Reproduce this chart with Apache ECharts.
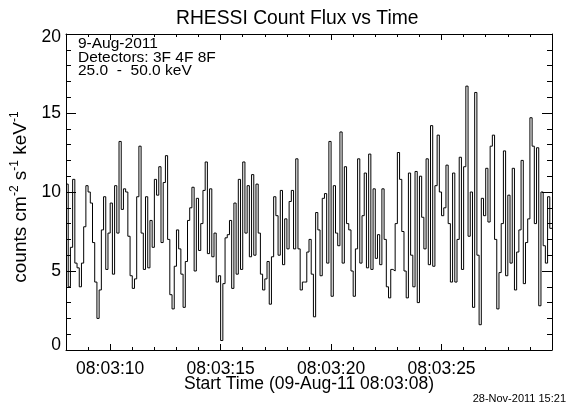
<!DOCTYPE html>
<html>
<head>
<meta charset="utf-8">
<script src="https://cdn.jsdelivr.net/npm/echarts@6/dist/echarts.min.js"></script>
<style>
html, body { margin: 0; padding: 0; background: #fff; }
#chart { width: 576px; height: 410px; }
</style>
</head>
<body>
<div id="chart"></div>
<script>
'use strict';
// count flux per 0.1 s bin
const flux = [
    10.5, 4.0, 6.5, 10.8, 5.5, 5.2, 4.0, 5.5, 7.8, 10.4,
    10.0, 9.3, 6.8, 4.3, 2.0, 3.8, 7.6, 9.7, 5.1, 7.4,
    9.3, 4.8, 10.4, 7.4, 13.2, 8.9, 10.2, 10.0, 7.2, 4.7,
    3.9, 4.5, 9.7, 12.9, 7.4, 5.1, 9.7, 5.2, 8.2, 6.5,
    10.8, 9.8, 11.6, 6.8, 10.6, 12.3, 7.0, 3.5, 2.6, 5.3,
    7.6, 6.4, 4.8, 2.7, 5.6, 8.2, 9.0, 10.3, 5.0, 9.6,
    6.3, 8.0, 10.1, 11.9, 6.1, 10.2, 5.9, 7.4, 4.3, 4.7,
    0.6, 4.2, 7.1, 7.3, 8.2, 3.9, 9.3, 4.8, 10.8, 5.1,
    11.9, 7.4, 10.4, 5.9, 11.1, 6.0, 10.5, 7.4, 4.8, 3.8,
    4.5, 5.6, 2.9, 5.9, 9.7, 8.5, 6.0, 10.1, 5.4, 8.3,
    6.4, 9.4, 10.1, 6.4, 12.1, 6.4, 3.8, 4.3, 4.3, 6.2,
    7.0, 4.8, 2.1, 8.7, 7.6, 4.7, 9.6, 9.9, 5.5, 13.2,
    3.4, 10.4, 7.4, 6.6, 13.8, 5.5, 11.6, 8.0, 7.6, 5.0,
    3.4, 6.4, 12.1, 5.5, 8.5, 11.2, 5.2, 12.4, 5.1, 10.2,
    5.8, 7.3, 5.4, 10.2, 7.0, 4.0, 3.3, 5.1, 5.0, 8.0,
    12.5, 10.8, 7.5, 5.0, 3.3, 11.2, 6.0, 4.0, 11.3, 3.0,
    11.0, 8.4, 6.4, 12.1, 5.4, 14.2, 5.3, 10.4, 13.6, 10.0,
    8.5, 9.0, 11.7, 8.0, 4.3, 11.2, 4.3, 7.0, 12.2, 5.1,
    11.6, 16.7, 7.2, 10.0, 2.7, 16.3, 6.0, 1.6, 9.6, 8.5,
    11.5, 8.1, 12.9, 13.6, 7.0, 2.6, 4.9, 8.0, 12.6, 4.7,
    9.8, 5.5, 11.5, 3.8, 6.2, 7.6, 12.0, 4.2, 6.8, 8.3,
    14.7, 12.9, 8.0, 12.8, 2.8, 10.0, 6.6, 5.5, 9.7, 7.7
];
const binStart = 8;     // seconds after 08:03:00
const binWidth = 0.1;   // seconds

// one label per second, only the majors are shown
const timeLabels = [
    '08:03:08', '08:03:09', '08:03:10', '08:03:11', '08:03:12', '08:03:13',
    '08:03:14', '08:03:15', '08:03:16', '08:03:17', '08:03:18', '08:03:19',
    '08:03:20', '08:03:21', '08:03:22', '08:03:23', '08:03:24', '08:03:25',
    '08:03:26', '08:03:27', '08:03:28', '08:03:29', '08:03:30'
];
const majorLabels = ['08:03:10', '08:03:15', '08:03:20', '08:03:25'];
const infoLines = ['9-Aug-2011', 'Detectors: 3F 4F 8F', '25.0  -  50.0 keV'];

const FONT = '"Liberation Sans", Arial, Helvetica, sans-serif';
const BLACK = '#000';

//histogram points, last bin closed at its right edge
const seriesData = flux.map((v, i) => [binStart + i * binWidth, v]);
seriesData.push([binStart + flux.length * binWidth, flux[flux.length - 1]]);

const isMajor = (idx, value) => majorLabels.indexOf(value) !== -1;
const frameLine = { show: true, lineStyle: { color: BLACK, width: 1 } };
const tickStyle = { color: BLACK, width: 1 };

//x轴: value axis for minor ticks, category axis for major ticks + labels
const minorX = (position) => ({
    type: 'value',
    position,
    min: 8,
    max: 30,
    interval: 1,
    axisLine: frameLine,
    axisTick: { show: true, inside: true, length: 3, lineStyle: tickStyle },
    axisLabel: { show: false },
    splitLine: { show: false }
});
const majorX = (position, withLabels) => ({
    type: 'category',
    position,
    boundaryGap: false,
    data: timeLabels,
    axisLine: { show: false },
    axisTick: { show: true, inside: true, length: 6, interval: isMajor, lineStyle: tickStyle },
    axisLabel: {
        show: withLabels,
        interval: isMajor,
        margin: 10,
        fontFamily: FONT,
        fontSize: 17.5,
        color: BLACK
    },
    splitLine: { show: false }
});

//y轴 end labels sit a little inside the frame
const yAxisOf = (position, withLabels) => ({
    type: 'value',
    position,
    min: 0,
    max: 20,
    interval: 5,
    axisLine: frameLine,
    axisTick: { show: true, inside: true, length: 10, lineStyle: tickStyle },
    minorTick: { show: true, splitNumber: 5, length: 5, lineStyle: tickStyle },
    axisLabel: {
        show: withLabels,
        margin: 5,
        fontFamily: FONT,
        fontSize: 17.5,
        color: BLACK,
        formatter: (value) => {
            if (value === 0) return '{lo|0}';
            if (value === 20) return '{hi|20}';
            return String(value);
        },
        rich: {
            lo: { fontFamily: FONT, fontSize: 17.5, color: BLACK, padding: [0, 0, 10, 0] },
            hi: { fontFamily: FONT, fontSize: 17.5, color: BLACK, padding: [7, 0, 0, 0] }
        }
    },
    splitLine: { show: false },
    minorSplitLine: { show: false }
});

const bottomMajor = majorX('bottom', true);
bottomMajor.name = 'Start Time (09-Aug-11 08:03:08)';
bottomMajor.nameLocation = 'middle';
bottomMajor.nameGap = 25;
bottomMajor.nameMoveOverlap = false;
bottomMajor.nameTextStyle = { fontFamily: FONT, fontSize: 17.5, color: BLACK };

const leftY = yAxisOf('left', true);
leftY.name = 'counts cm{sup|-2} s{sup|-1} keV{sup|-1}';
leftY.nameLocation = 'middle';
leftY.nameGap = 33;
leftY.nameMoveOverlap = false;
leftY.nameTextStyle = {
    fontFamily: FONT,
    fontSize: 19,
    color: BLACK,
    lineHeight: 24,
    padding: [0, 10, 0, 0],
    rich: {
        sup: { fontFamily: FONT, fontSize: 12, lineHeight: 12, verticalAlign: 'top', color: BLACK }
    }
};

const option = {
    animation: false,
    backgroundColor: '#fff',
    title: {
        text: 'RHESSI Count Flux vs Time',
        left: 176,
        top: 9,
        padding: 0,
        textStyle: { fontFamily: FONT, fontSize: 19.3, fontWeight: 'normal', color: BLACK }
    },
    grid: { left: 66, right: 24, top: 34, bottom: 60 },
    xAxis: [minorX('bottom'), bottomMajor, minorX('top'), majorX('top', false)],
    yAxis: [leftY, yAxisOf('right', false)],
    series: [{
        type: 'line',
        xAxisIndex: 0,
        yAxisIndex: 0,
        step: 'end',
        data: seriesData,
        symbol: 'none',
        showSymbol: false,
        silent: true,
        lineStyle: { color: BLACK, width: 1 }
    }],
    graphic: [
        {
            type: 'text',
            left: 78,
            top: 36,
            style: {
                text: infoLines.join('\n'),
                font: '15.5px ' + FONT,
                lineHeight: 13.3,
                fill: BLACK
            }
        },
        {
            type: 'text',
            right: 10,
            top: 393,
            style: { text: '28-Nov-2011 15:21', font: '11px ' + FONT, fill: BLACK }
        }
    ]
};

const chart = echarts.init(document.getElementById('chart'), null, { renderer: 'canvas' });
chart.setOption(option);
</script>
</body>
</html>
